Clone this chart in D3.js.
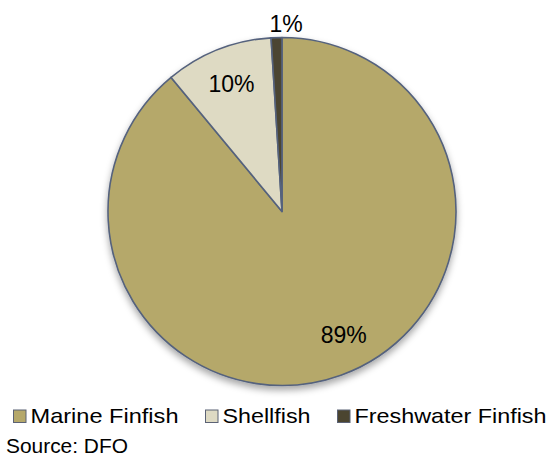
<!DOCTYPE html>
<html>
<head>
<meta charset="utf-8">
<script src="https://cdn.jsdelivr.net/npm/d3@7"></script>
<style>
  html, body { margin: 0; padding: 0; background: #fff; }
  svg { display: block; font-family: "Liberation Sans", Arial, sans-serif; }
</style>
</head>
<body>
<svg id="chart" width="552" height="455"></svg>
<script>
// Aquaculture production by type (share of total, %)
const categories = ["Marine Finfish", "Shellfish", "Freshwater Finfish"];
const shares = [89, 10, 1];
const labels = ["89%", "10%", "1%"];
const colors = ["#b5a86a", "#dedac3", "#4b4530"];
const sourceNote = "Source: DFO";

const svg = d3.select("#chart");
const cx = 282, cy = 211.5, R = 174;

// soft drop shadow beneath the pie
const defs = svg.append("defs");
const f = defs.append("filter").attr("id", "shadow")
  .attr("x", "-20%").attr("y", "-20%").attr("width", "140%").attr("height", "140%");
f.append("feDropShadow").attr("dx", 0).attr("dy", 4).attr("stdDeviation", 3.5)
  .attr("flood-color", "#000").attr("flood-opacity", 0.35);

const pie = d3.pie().sort(null).value(d => d)(shares);
const arc = d3.arc().innerRadius(0).outerRadius(R);

const g = svg.append("g").attr("transform", `translate(${cx},${cy})`);
g.append("g").attr("filter", "url(#shadow)")
  .selectAll("path").data(pie).join("path")
  .attr("d", arc)
  .attr("fill", (d, i) => colors[i])
  .attr("stroke", "#55627d")
  .attr("stroke-width", 1.6)
  .attr("stroke-linejoin", "round");

// value labels: inside for large slices, just outside for the thin one
const isSmall = d => (d.endAngle - d.startAngle) < 0.2;
g.selectAll("text.val").data(pie).join("text")
  .attr("class", "val")
  .attr("transform", d => {
    const small = isSmall(d);
    // nudge the big slice's label a little toward its right-hand edge
    const a = small ? (d.startAngle + d.endAngle) / 2
      : (d.startAngle + d.endAngle) / 2 - (d.endAngle - d.startAngle > Math.PI ? 0.12 : 0);
    const r = small ? R + 14 : R * 0.79;
    return `translate(${r * Math.sin(a)},${-r * Math.cos(a)})`;
  })
  .attr("text-anchor", "middle")
  .attr("dx", d => isSmall(d) ? 10 : 0)
  .attr("dy", "0.36em")
  .attr("font-size", 23)
  .attr("fill", "#000")
  .text((d, i) => labels[i]);

// legend
const legendX = [13, 205, 337];
const legendW = [148, 88, 192];
const legend = svg.append("g").selectAll("g").data(categories).join("g")
  .attr("transform", (d, i) => `translate(${legendX[i]},409.5)`);
legend.append("rect")
  .attr("x", 0.5).attr("y", 0.5).attr("width", 12.5).attr("height", 12.5)
  .attr("fill", (d, i) => colors[i])
  .attr("stroke", "#5b6275").attr("stroke-width", 1);
legend.append("text")
  .attr("x", 17.5).attr("y", 13)
  .attr("font-size", 21)
  .attr("textLength", (d, i) => legendW[i])
  .attr("lengthAdjust", "spacingAndGlyphs")
  .attr("fill", "#000")
  .text(d => d);

svg.append("text")
  .attr("x", 6).attr("y", 452.5)
  .attr("font-size", 20)
  .attr("textLength", 122)
  .attr("lengthAdjust", "spacingAndGlyphs")
  .attr("fill", "#000")
  .text(sourceNote);
</script>
</body>
</html>
